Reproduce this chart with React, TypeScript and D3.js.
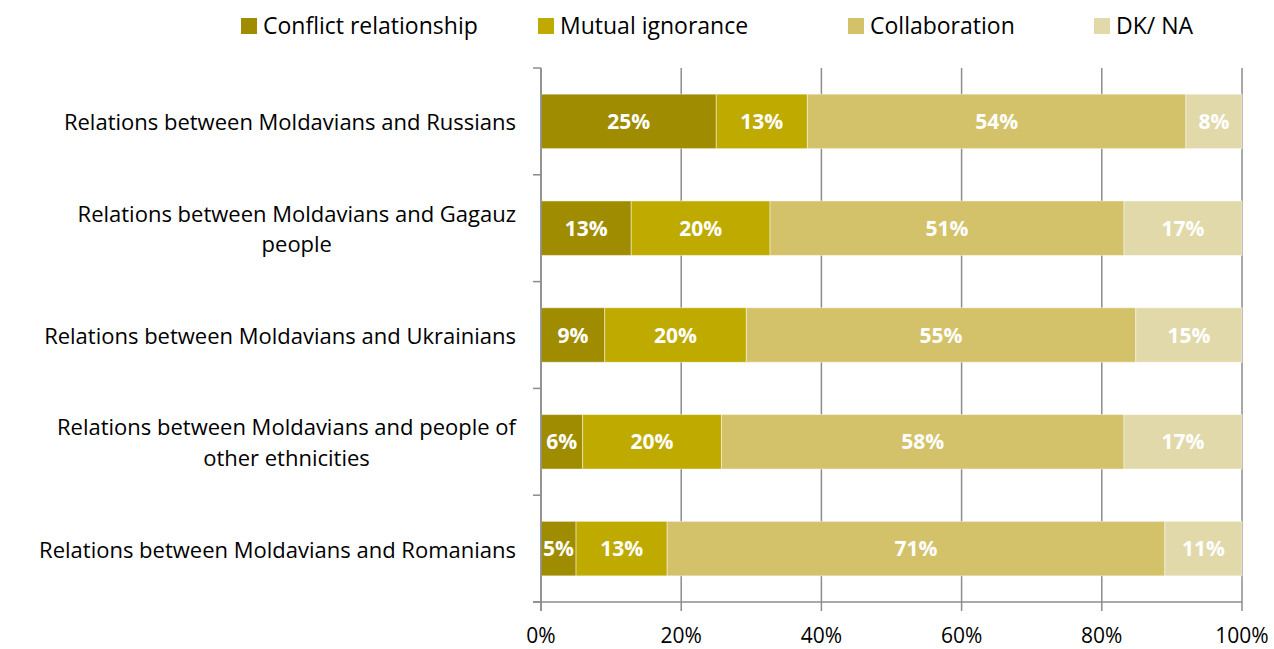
import React, { useEffect, useRef } from "react";
import * as d3 from "d3";

const categories = [
  ["Relations between Moldavians and Russians"],
  ["Relations between Moldavians and Gagauz", "people"],
  ["Relations between Moldavians and Ukrainians"],
  ["Relations between Moldavians and people of", "other ethnicities"],
  ["Relations between Moldavians and Romanians"],
];
const seriesNames = ["Conflict relationship", "Mutual ignorance", "Collaboration", "DK/ NA"];
const conflict = [25, 13, 9, 6, 5];
const mutual = [13, 20, 20, 20, 13];
const collaboration = [54, 51, 55, 58, 71];
const dkna = [8, 17, 15, 17, 11];
const xTicks = [0, 20, 40, 60, 80, 100];
const colors = ["#A08C00", "#BFAA00", "#D3C26A", "#E2D9AB"];

const W = 1274;
const H = 649;
const FONT = "'Open Sans', Lato, sans-serif";

export default function App() {
  const ref = useRef<SVGSVGElement>(null);
  useEffect(() => {
    const svg = d3.select(ref.current);
    svg.selectAll("*").remove();
    const left = 541, right = 1242, top = 68, bottom = 602;
    const x = d3.scaleLinear().domain([0, 1]).range([left, right]);
    const y = d3.scaleBand().domain(categories.map((_, i) => String(i))).range([top, bottom]).paddingInner(0.49).paddingOuter(0.245);
    const series = [conflict, mutual, collaboration, dkna];
    const rows = categories.map((_, i) => {
      const o: any = { i };
      series.forEach((s, k) => (o["s" + k] = s[i]));
      return o;
    });
    const keys = ["s0", "s1", "s2", "s3"];
    const stack = d3.stack().keys(keys).offset(d3.stackOffsetExpand);
    const stacked = stack(rows);

    // gridlines
    const g = svg.append("g");
    g.selectAll("line.grid").data(xTicks).enter().append("line")
      .attr("x1", (d) => x(d / 100)).attr("x2", (d) => x(d / 100))
      .attr("y1", top).attr("y2", bottom + 9)
      .attr("stroke", "#8c8c8c").attr("stroke-width", 1.5);

    // bars
    stacked.forEach((layer, k) => {
      const gl = svg.append("g");
      gl.selectAll("rect").data(layer).enter().append("rect")
        .attr("x", (d: any) => x(d[0]))
        .attr("width", (d: any) => x(d[1]) - x(d[0]))
        .attr("y", (_d: any, i: number) => y(String(i))!)
        .attr("height", y.bandwidth())
        .attr("fill", colors[k])
        .attr("stroke", "rgba(255,255,255,0.45)")
        .attr("stroke-width", 1);
      gl.selectAll("text").data(layer).enter().append("text")
        .attr("x", (d: any) => (x(d[0]) + x(d[1])) / 2)
        .attr("y", (_d: any, i: number) => y(String(i))! + y.bandwidth() / 2)
        .attr("dy", "0.36em")
        .attr("text-anchor", "middle")
        .attr("fill", "#fff")
        .attr("font-weight", "bold")
        .attr("font-size", 21)
        .attr("font-family", FONT)
        .text((_d: any, i: number) => series[k][i] + "%");
    });

    // y axis
    svg.append("line").attr("x1", left).attr("x2", left).attr("y1", top).attr("y2", bottom + 9)
      .attr("stroke", "#8c8c8c").attr("stroke-width", 1.5);
    const step = y.step();
    d3.range(categories.length + 1).forEach((i) => {
      const yy = top + i * step;
      svg.append("line").attr("x1", left - 8).attr("x2", left).attr("y1", yy).attr("y2", yy)
        .attr("stroke", "#8c8c8c").attr("stroke-width", 1.5);
    });
    // x axis
    svg.append("line").attr("x1", left - 8).attr("x2", right).attr("y1", bottom).attr("y2", bottom)
      .attr("stroke", "#8c8c8c").attr("stroke-width", 1.5);
    svg.selectAll("text.xt").data(xTicks).enter().append("text")
      .attr("x", (d) => x(d / 100)).attr("y", 643)
      .attr("text-anchor", "middle").attr("font-size", 21).attr("font-family", FONT).attr("fill", "#000")
      .text((d) => d + "%");

    // category labels
    categories.forEach((lines, i) => {
      const cy = y(String(i))! + y.bandwidth() / 2 + 1;
      const lh = 30.5;
      const y0 = cy - ((lines.length - 1) * lh) / 2;
      const texts = lines.map((l, j) =>
        svg.append("text").attr("font-size", 22).attr("font-family", FONT).attr("fill", "#000")
          .attr("y", y0 + j * lh).attr("dy", "0.36em").text(l));
      const widths = texts.map((s) => (s.node() as SVGTextElement).getComputedTextLength());
      const maxW = Math.max(...widths);
      const cx = 516 - maxW / 2;
      texts.forEach((s) => s.attr("x", cx).attr("text-anchor", "middle"));
    });

    // legend
    const legendX = [241, 538, 848, 1094];
    seriesNames.forEach((n, k) => {
      svg.append("rect").attr("x", legendX[k]).attr("y", 18).attr("width", 16).attr("height", 16).attr("fill", colors[k]);
      svg.append("text").attr("x", legendX[k] + 22).attr("y", 26).attr("dy", "0.36em")
        .attr("font-size", 23).attr("font-family", FONT).attr("fill", "#000").text(n);
    });
  }, []);
  return <svg ref={ref} width={W} height={H} style={{ position: "absolute", left: 0, top: 0 }} />;
}
